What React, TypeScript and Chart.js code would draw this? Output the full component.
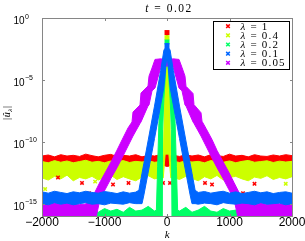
import React, { useEffect, useRef } from 'react';
import { Chart, registerables } from 'chart.js';

Chart.register(...registerables);

// ---- axes / text ----
const kTicks = [-2000, -1000, 0, 1000, 2000];
const yTicks = [1, 1e-5, 1e-10, 1e-15];
const yTickExp = ['0', '\u22125', '\u221210', '\u221215'];
const seriesLabels = ['\u03bb = 1', '\u03bb = 0.4', '\u03bb = 0.2', '\u03bb = 0.1', '\u03bb = 0.05'];
const seriesColors = ['#ff0000', '#ccff00', '#00ff66', '#0066ff', '#cc00ff'];
const titleText = 't = 0.02';

// ---- lambda = 1 (red): k grid, upper and lower envelope of the marker cloud ----
const redK = [-2000, -1900, -1800, -1700, -1600, -1500, -1400, -1300, -1200, -1100, -1000, -900, -800, -700, -600, -500, -400, -300, -200, -100,
  -40, -16, -8, 0, 8, 16, 40,
  100, 200, 300, 400, 500, 600, 700, 800, 900, 1000, 1100, 1200, 1300, 1400, 1500, 1600, 1700, 1800, 1900, 2000];
const redHi = [7e-12, 8.5e-12, 6e-12, 9e-12, 7e-12, 8e-12, 6.5e-12, 1e-11, 7.5e-12, 6e-12, 8e-12, 9.5e-12, 6.5e-12, 8e-12, 7e-12, 9e-12, 6e-12, 8e-12, 7e-12, 9e-12,
  8e-12, 6e-3, 5e-2, 6.7e-2, 5e-2, 6e-3, 7e-12,
  8e-12, 6.5e-12, 9e-12, 7e-12, 8.5e-12, 6e-12, 9e-12, 7.5e-12, 6.5e-12, 1e-11, 7e-12, 8e-12, 6e-12, 9e-12, 7e-12, 6.5e-12, 8.5e-12, 7e-12, 9e-12, 7.5e-12];
const redLo = [1.3e-12, 1.1e-12, 1.4e-12, 1.2e-12, 1.3e-12, 1e-12, 1.2e-12, 1.4e-12, 1.1e-12, 1.3e-12, 1.2e-12, 1e-12, 1.3e-12, 1.1e-12, 1.4e-12, 1.2e-12, 1.3e-12, 1.1e-12, 1.2e-12, 1.3e-12,
  1.2e-12, 1e-12, 1e-12, 1e-12, 1e-12, 1e-12, 1.2e-12,
  1.3e-12, 1.1e-12, 1.2e-12, 1.4e-12, 1e-12, 1.3e-12, 1.2e-12, 1.1e-12, 1.4e-12, 1.2e-12, 1.3e-12, 1e-12, 1.2e-12, 1.3e-12, 1.1e-12, 1.4e-12, 1.2e-12, 1.3e-12, 1.1e-12, 1.2e-12];
const redOutK = [-1744, -1360, -1248, -864, -616, -64, 48, 608, 720, 1216, 1400];
const redOutV = [1.3e-13, 4.7e-14, 7e-15, 3.5e-14, 4.7e-14, 4.7e-14, 4.7e-14, 4.7e-14, 3.5e-14, 7e-15, 4e-14];

// ---- lambda = 0.4 (yellow-green) ----
const yelK = [-2000, -1900, -1800, -1700, -1600, -1500, -1400, -1300, -1200, -1100, -1000, -900, -800, -700, -600, -500, -400, -300, -200, -100,
  -60, -30, -10, 0, 10, 30, 60,
  100, 200, 300, 400, 500, 600, 700, 800, 900, 1000, 1100, 1200, 1300, 1400, 1500, 1600, 1700, 1800, 1900, 2000];
const yelHi = [2.5e-12, 2e-12, 3e-12, 2.2e-12, 2.8e-12, 2e-12, 2.5e-12, 3.2e-12, 2.2e-12, 2.6e-12, 2e-12, 2.8e-12, 2.4e-12, 3e-12, 2.1e-12, 2.6e-12, 2.3e-12, 2.9e-12, 2.2e-12, 2.5e-12,
  2.5e-12, 1e-4, 1.5e-2, 2.6e-2, 1.5e-2, 1e-4, 2.4e-12,
  2.7e-12, 2.1e-12, 2.9e-12, 2.3e-12, 2.6e-12, 2e-12, 3e-12, 2.4e-12, 2.2e-12, 2.8e-12, 2e-12, 2.6e-12, 3.1e-12, 2.2e-12, 2.5e-12, 2.9e-12, 2.1e-12, 2.7e-12, 2.3e-12, 2.6e-12];
const yelLo = [1.2e-13, 8e-14, 1.6e-13, 1e-13, 2e-13, 7e-14, 1.3e-13, 1e-13, 1.6e-13, 8e-14, 1.3e-13, 2e-13, 9e-14, 1.5e-13, 1e-13, 7e-14, 1.4e-13, 1.8e-13, 1e-13, 1.3e-13,
  1.2e-13, 1e-11, 1e-11, 1e-11, 1e-11, 1e-11, 1.2e-13,
  1.3e-13, 9e-14, 1.6e-13, 1.1e-13, 7e-14, 1.5e-13, 1e-13, 1.9e-13, 8e-14, 1.3e-13, 1.6e-13, 1e-13, 7e-14, 1.4e-13, 1.1e-13, 1.8e-13, 9e-14, 1.3e-13, 1e-13, 1.5e-13];
const yelOutK = [-1950, -1150, 1000, 1900];
const yelOutV = [1.5e-14, 6e-14, 6e-14, 4e-14];

// ---- lambda = 0.2 (green) ----
const grnK = [-2000, -1900, -1800, -1700, -1600, -1500, -1400, -1300, -1200, -1100, -1000, -900, -800, -700, -600, -500, -400, -300, -200,
  -170, -150, -130, -110, -80, -70, -50, -30, -15, 0, 15, 30, 50, 70, 80, 110, 130, 150, 170,
  200, 300, 400, 500, 600, 700, 800, 900, 1000, 1100, 1200, 1300, 1400, 1500, 1600, 1700, 1800, 1900, 2000];
const grnHi = [3e-16, 2e-16, 5e-16, 2.5e-16, 3e-16, 2e-16, 6e-16, 2.5e-16, 3e-16, 2e-16, 4e-16, 2.5e-16, 3.5e-16, 2e-16, 5e-16, 2.5e-16, 3e-16, 6e-16, 2.5e-16,
  3e-16, 1e-12, 3e-9, 3e-7, 5e-6, 1.3e-5, 1e-4, 8e-4, 4e-3, 1.15e-2, 4e-3, 8e-4, 1e-4, 1.3e-5, 5e-6, 3e-7, 3e-9, 1e-12, 3e-16,
  2.5e-16, 5e-16, 2e-16, 3e-16, 6e-16, 2.5e-16, 2e-16, 4e-16, 2.5e-16, 3e-16, 2e-16, 5e-16, 2.5e-16, 3.5e-16, 2e-16, 3e-16, 5.5e-16, 2.5e-16, 3e-16];
const grnLo = [3e-17, 3e-17, 3e-17, 3e-17, 3e-17, 3e-17, 3e-17, 3e-17, 3e-17, 3e-17, 3e-17, 3e-17, 3e-17, 3e-17, 3e-17, 3e-17, 3e-17, 3e-17, 3e-17,
  3e-17, 3e-17, 3e-17, 3e-17, 3e-17, 1e-9, 3e-7, 1e-5, 2e-4, 2e-3, 2e-4, 1e-5, 3e-7, 1e-9, 3e-17, 3e-17, 3e-17, 3e-17, 3e-17,
  3e-17, 3e-17, 3e-17, 3e-17, 3e-17, 3e-17, 3e-17, 3e-17, 3e-17, 3e-17, 3e-17, 3e-17, 3e-17, 3e-17, 3e-17, 3e-17, 3e-17, 3e-17, 3e-17];

// ---- lambda = 0.1 (blue) ----
const bluK = [-2000, -1900, -1800, -1700, -1600, -1500, -1400, -1300, -1200, -1100, -1000, -900, -800, -700, -600, -500,
  -450, -400, -370, -300, -200, -100, -50, -20, 0, 20, 50, 100, 200, 300, 370, 400, 450,
  500, 600, 700, 800, 900, 1000, 1100, 1200, 1300, 1400, 1500, 1600, 1700, 1800, 1900, 2000];
const bluHi = [9e-15, 7e-15, 1e-14, 8e-15, 6.5e-15, 9e-15, 7.5e-15, 1e-14, 8e-15, 7e-15, 9.5e-15, 8e-15, 6.5e-15, 9e-15, 7e-15, 8.5e-15,
  1.2e-14, 2.8e-13, 1.8e-12, 1.4e-10, 7.6e-8, 6e-5, 2.5e-3, 4.5e-3, 6e-3, 4.5e-3, 2.5e-3, 6e-5, 7.6e-8, 1.4e-10, 1.8e-12, 2.8e-13, 1.2e-14,
  8e-15, 9.5e-15, 7e-15, 8.5e-15, 1e-14, 7e-15, 9e-15, 6.5e-15, 8e-15, 1e-14, 7.5e-15, 9e-15, 6.5e-15, 8e-15, 9e-15, 7e-15];
const bluLo = [1e-15, 8e-16, 1.2e-15, 9e-16, 1.1e-15, 8e-16, 1e-15, 1.2e-15, 9e-16, 1e-15, 8e-16, 1.1e-15, 1e-15, 9e-16, 1.2e-15, 1e-15,
  1e-15, 1e-15, 5e-15, 3.6e-13, 1.8e-10, 1e-7, 2.5e-6, 1e-4, 1e-3, 1e-4, 2.5e-6, 1e-7, 1.8e-10, 3.6e-13, 5e-15, 1e-15, 1e-15,
  9e-16, 1.1e-15, 1e-15, 8e-16, 1.2e-15, 1e-15, 9e-16, 1.1e-15, 1e-15, 8e-16, 1.2e-15, 9e-16, 1e-15, 1.1e-15, 8e-16, 1e-15];

// ---- lambda = 0.05 (magenta) ----
const magK = [-2000, -1900, -1800, -1700, -1600, -1500, -1400,
  -1312, -1232, -1152, -1072, -992, -896, -800, -720, -624, -560, -544, -432, -416, -304, -288, -240, -192, -100, -40, -15,
  0,
  15, 40, 100, 192, 240, 288, 304, 416, 432, 544, 560, 624, 720, 800, 896, 992, 1072, 1152, 1232, 1312,
  1400, 1500, 1600, 1700, 1800, 1900, 2000];
const magHi = [1.1e-15, 8e-16, 1.2e-15, 9e-16, 1.3e-15, 1e-15, 8.5e-16,
  9e-16, 1.6e-15, 8.7e-15, 5.6e-14, 3e-13, 2.3e-12, 2.1e-11, 1.4e-10, 1.3e-9, 4e-9, 2.5e-8, 9.3e-8, 8.7e-7, 3.2e-6, 2e-5, 9e-5, 4.5e-4, 5e-4, 4.5e-4, 4e-4,
  3.5e-4,
  4e-4, 4.5e-4, 5e-4, 4.5e-4, 1e-4, 2e-5, 3e-6, 8e-7, 1e-7, 2.2e-8, 4.5e-9, 1.2e-9, 1.5e-10, 2e-11, 2.5e-12, 3.2e-13, 5e-14, 8e-15, 1.5e-15, 1e-15,
  9e-16, 1.2e-15, 8e-16, 1.1e-15, 1e-15, 1.3e-15, 9e-16];
const magLo = [3e-17, 3e-17, 3e-17, 3e-17, 3e-17, 3e-17, 3e-17,
  3e-17, 3e-17, 3e-17, 2.3e-15, 1.3e-14, 1.1e-13, 8e-13, 4.8e-12, 4.5e-11, 2e-10, 2.9e-10, 3e-9, 4e-9, 7.8e-8, 9.3e-8, 1.3e-6, 2.2e-6, 1e-4, 1.2e-4, 1.3e-4,
  1.3e-4,
  1.3e-4, 1.2e-4, 1e-4, 2.2e-6, 1.3e-6, 9.3e-8, 7.8e-8, 4e-9, 3e-9, 2.9e-10, 2e-10, 4.5e-11, 4.8e-12, 8e-13, 1.1e-13, 1.3e-14, 2.3e-15, 3e-17, 3e-17, 3e-17,
  3e-17, 3e-17, 3e-17, 3e-17, 3e-17, 3e-17, 3e-17];

type P = { x: number; y: number; peak?: boolean };

function cloud(k: number[], hi: number[], lo: number[]): P[] {
  const top: P[] = k.map((x, i) => ({ x, y: hi[i], peak: x === 0 }));
  const bottom: P[] = k.map((x, i) => ({ x, y: lo[i] })).reverse();
  return [...top, ...bottom];
}

function bandSet(label: string, color: string, data: P[], order: number, peak: boolean) {
  return {
    type: 'line' as const,
    label,
    data,
    borderColor: color,
    backgroundColor: color,
    borderWidth: 1,
    fill: 'shape',
    tension: 0,
    order,
    clip: 0,
    pointStyle: 'rect',
    pointRadius: (c: any) => (peak && c.raw && c.raw.peak ? 3.5 : 0),
    pointBorderWidth: 0,
    pointBackgroundColor: color,
  };
}

function markerSet(label: string, color: string, k: number[], v: number[], order: number) {
  return {
    type: 'line' as const,
    label,
    data: k.map((x, i) => ({ x, y: v[i] })),
    showLine: false,
    order,
    clip: 0,
    pointStyle: 'crossRot',
    pointRadius: 2.4,
    pointBorderWidth: 1.5,
    pointBorderColor: color,
    pointBackgroundColor: color,
  };
}

function fmtK(k: number) {
  return k < 0 ? '\u2212' + Math.abs(k) : String(k);
}

const SERIF = '"Liberation Serif", "Times New Roman", serif';
const SANS = '"Liberation Sans", Arial, Helvetica, sans-serif';

function drawParts(ctx: CanvasRenderingContext2D, parts: { t: string; font: string; dy?: number }[], x: number, y: number, align: 'left' | 'center') {
  const widths = parts.map((p) => {
    ctx.font = p.font;
    return ctx.measureText(p.t).width;
  });
  const total = widths.reduce((a, b) => a + b, 0);
  let cx = align === 'center' ? x - total / 2 : x;
  ctx.textAlign = 'left';
  parts.forEach((p, i) => {
    ctx.font = p.font;
    ctx.fillText(p.t, cx, y + (p.dy || 0));
    cx += widths[i];
  });
}

const decor = {
  id: 'decor',
  afterDraw(chart: any) {
    const { ctx, chartArea: a, scales } = chart;
    const xs = scales.x;
    const ys = scales.y;
    const L = Math.round(a.left) + 0.5;
    const R = Math.round(a.right) + 0.5;
    const T = Math.round(a.top) + 0.5;
    const B = Math.round(a.bottom) + 0.5;
    ctx.save();
    // axes box and inward ticks
    ctx.strokeStyle = '#868686';
    ctx.lineWidth = 1;
    ctx.strokeRect(L, T, R - L, B - T);
    ctx.beginPath();
    const tl = 2.5;
    kTicks.forEach((k) => {
      const x = Math.round(xs.getPixelForValue(k)) + 0.5;
      ctx.moveTo(x, B);
      ctx.lineTo(x, B - tl);
      ctx.moveTo(x, T);
      ctx.lineTo(x, T + tl);
    });
    yTicks.forEach((v) => {
      const y = Math.round(ys.getPixelForValue(v)) + 0.5;
      ctx.moveTo(L, y);
      ctx.lineTo(L + tl, y);
      ctx.moveTo(R, y);
      ctx.lineTo(R - tl, y);
    });
    ctx.stroke();

    ctx.fillStyle = '#000';
    ctx.textBaseline = 'alphabetic';
    // x tick labels
    ctx.font = '12px ' + SANS;
    ctx.textAlign = 'center';
    kTicks.forEach((k) => ctx.fillText(fmtK(k), xs.getPixelForValue(k), a.bottom + 10));
    // y tick labels 10^n
    yTicks.forEach((v, i) => {
      const y = ys.getPixelForValue(v);
      ctx.textAlign = 'left';
      ctx.font = '10px ' + SANS;
      ctx.fillText('10', 13.5, y + 6);
      const w = ctx.measureText('10').width;
      ctx.font = '7px ' + SANS;
      ctx.fillText(yTickExp[i], 13.5 + w + 0.3, y + 0.5);
    });

    // serif texts
    (ctx as any).letterSpacing = '1.5px';
    // title
    drawParts(ctx, [
      { t: 't', font: 'italic 11.5px ' + SERIF },
      { t: titleText.slice(1), font: '11.5px ' + SERIF },
    ], (a.left + a.right) / 2 + 2, 11.5, 'center');
    // x label
    drawParts(ctx, [{ t: 'k', font: 'italic 11px ' + SERIF }], (a.left + a.right) / 2 + 1, 237.5, 'center');
    // y label (rotated)
    ctx.save();
    ctx.translate(7, (a.top + a.bottom) / 2 - 4);
    ctx.rotate(-Math.PI / 2);
    (ctx as any).letterSpacing = '0.5px';
    drawParts(ctx, [
      { t: '|\u00fb', font: 'italic 10px ' + SERIF },
      { t: '\u03bb', font: 'italic 7px ' + SERIF, dy: 2 },
      { t: '|', font: '10px ' + SERIF },
    ], 0, 3, 'center');
    ctx.restore();

    // legend
    const lx = 213.5, ly = 21.5, lw = 76, lh = 48;
    ctx.fillStyle = '#fff';
    ctx.fillRect(lx, ly, lw, lh);
    ctx.strokeStyle = '#000';
    ctx.lineWidth = 1;
    ctx.strokeRect(lx, ly, lw, lh);
    (ctx as any).letterSpacing = '1.2px';
    seriesLabels.forEach((lab, i) => {
      const cy = 26.2 + i * 9.15;
      ctx.strokeStyle = seriesColors[i];
      ctx.lineWidth = 1.5;
      ctx.beginPath();
      ctx.moveTo(226.2, cy - 1.8);
      ctx.lineTo(229.8, cy + 1.8);
      ctx.moveTo(229.8, cy - 1.8);
      ctx.lineTo(226.2, cy + 1.8);
      ctx.stroke();
      ctx.fillStyle = '#000';
      drawParts(ctx, [
        { t: lab.slice(0, 1), font: 'italic 11px ' + SERIF },
        { t: lab.slice(1), font: '11px ' + SERIF },
      ], 240.5, cy + 3.6, 'left');
    });
    (ctx as any).letterSpacing = '0px';
    ctx.restore();
  },
};

export default function App() {
  const ref = useRef<HTMLCanvasElement>(null);
  useEffect(() => {
    if (!ref.current) return;
    const datasets: any[] = [
      bandSet(seriesLabels[0], seriesColors[0], cloud(redK, redHi, redLo), 5, true),
      bandSet(seriesLabels[1], seriesColors[1], cloud(yelK, yelHi, yelLo), 4, true),
      bandSet(seriesLabels[2], seriesColors[2], cloud(grnK, grnHi, grnLo), 2, true),
      bandSet(seriesLabels[3], seriesColors[3], cloud(bluK, bluHi, bluLo), 0, true),
      bandSet(seriesLabels[4], seriesColors[4], cloud(magK, magHi, magLo), 1, false),
      markerSet(seriesLabels[0] + ' (outliers)', seriesColors[0], redOutK, redOutV, 3),
      markerSet(seriesLabels[1] + ' (outliers)', seriesColors[1], yelOutK, yelOutV, 3.5),
    ];
    const chart = new Chart(ref.current, {
      type: 'line',
      data: { datasets },
      options: {
        responsive: false,
        animation: false,
        events: [],
        layout: { padding: { left: 42, right: 13, top: 18, bottom: 25 } },
        scales: {
          x: { type: 'linear', min: -2000, max: 2000, display: false },
          y: { type: 'logarithmic', min: 1e-16, max: 1, display: false },
        },
        plugins: {
          legend: { display: false },
          title: { display: false },
          tooltip: { enabled: false },
        },
      },
      plugins: [decor],
    } as any);
    return () => chart.destroy();
  }, []);
  return (
    <div style={{ position: 'fixed', left: 0, top: 0, width: 305, height: 241, background: '#fff' }}>
      <canvas ref={ref} width={305} height={241} style={{ display: 'block', width: 305, height: 241 }} />
    </div>
  );
}
